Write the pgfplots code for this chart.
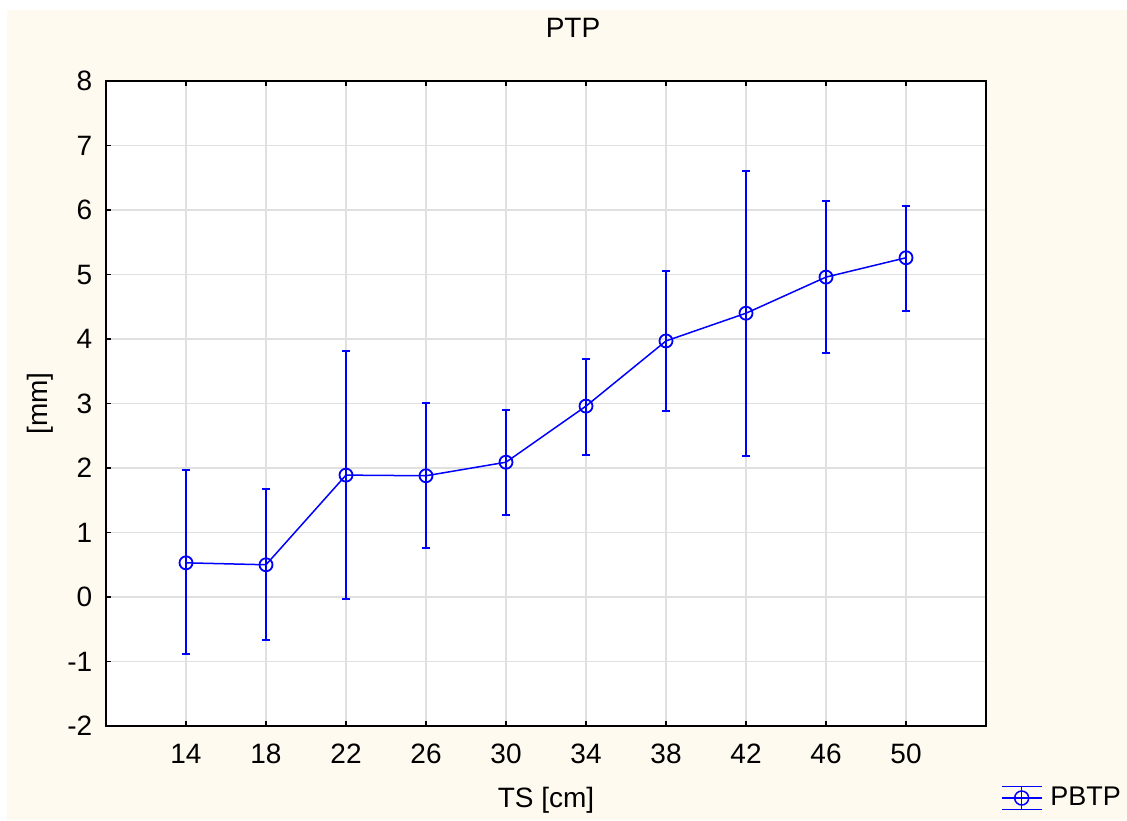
\documentclass[border=0pt]{standalone}
\usepackage{fontspec}
\setmainfont{Liberation Sans}
\usepackage{pgfplots}
\pgfplotsset{compat=1.18}
\usepackage{pgfplotstable}
\definecolor{cream}{RGB}{255,250,240}
\definecolor{gridgray}{RGB}{224,224,224}
\pgfplotstableread{
x y ep em
14 0.53 1.44 1.41
18 0.50 1.17 1.17
22 1.89 1.92 1.92
26 1.88 1.13 1.12
30 2.09 0.81 0.82
34 2.96 0.73 0.76
38 3.97 1.08 1.09
42 4.40 2.20 2.21
46 4.96 1.18 1.18
50 5.26 0.80 0.83
}\data
\begin{document}
\fontsize{14}{16}\selectfont
\begin{tikzpicture}
\fill[white] (0,0) rectangle (563.5pt,-410pt);
\fill[cream] (3.5pt,-5pt) rectangle (563.5pt,-410pt);
\begin{axis}[
  at={(53pt,-363pt)}, anchor=south west,
  scale only axis, width=440pt, height=322.5pt,
  xmin=10, xmax=54, ymin=-2, ymax=8,
  xtick={14,18,...,50}, ytick={-2,-1,...,8},
  xtick pos=both, ytick pos=left,
  tick align=inside, major tick length=2.5pt,
  tick style={black, line width=0.75pt},
  axis line style={black, line width=0.75pt},
  axis background/.style={fill=white},
  grid=major, major grid style={gridgray, line width=0.6pt},
  /pgf/number format/assume math mode=true,
  ticklabel style={font=\fontsize{14}{16}\selectfont},
  yticklabel style={xshift=-2pt},
  xticklabel style={yshift=-4pt},
  title={PTP},
  title style={at={(axis description cs:0.5307,1.0636)}, anchor=center, font=\fontsize{14}{16}\selectfont},
  xlabel={TS [cm]},
  xlabel style={at={(axis description cs:0.5,-0.1147)}, anchor=center, font=\fontsize{14}{16}\selectfont},
  ylabel={[mm]},
  ylabel style={at={(axis description cs:-0.075,0.5)}, anchor=center, rotate=0, font=\fontsize{14}{16}\selectfont},
  legend style={at={(axis description cs:1.0165,-0.1116)}, anchor=west, draw=none, fill=none, inner sep=0pt, font=\fontsize{13.5}{16}\selectfont},
  legend cell align=left,
  legend image code/.code={
    \draw[blue,line width=0.75pt] (0pt,5.75pt) -- (20pt,5.75pt);
    \draw[blue,line width=0.75pt] (0pt,0pt) -- (20pt,0pt);
    \draw[blue,line width=0.75pt] (0pt,-5.75pt) -- (20pt,-5.75pt);
    \draw[blue,line width=0.75pt] (10pt,-5.75pt) -- (10pt,5.75pt);
    \draw[blue,line width=0.75pt] (10pt,0pt) circle (3.5pt);
  },
]
\addplot[blue, line width=0.75pt, mark=o, mark size=3.25pt,
  mark options={line width=0.9pt},
  error bars/.cd, y dir=both, y explicit,
  error bar style={line width=0.9pt},
  error mark options={rotate=90, mark size=2pt, line width=0.9pt}]
  table[x=x, y=y, y error plus=ep, y error minus=em] {\data};
\addlegendentry{\hspace{2pt}PBTP}
\end{axis}
\pgfresetboundingbox
\useasboundingbox (0,0) rectangle (563.5pt,-410pt);
\end{tikzpicture}
\end{document}
